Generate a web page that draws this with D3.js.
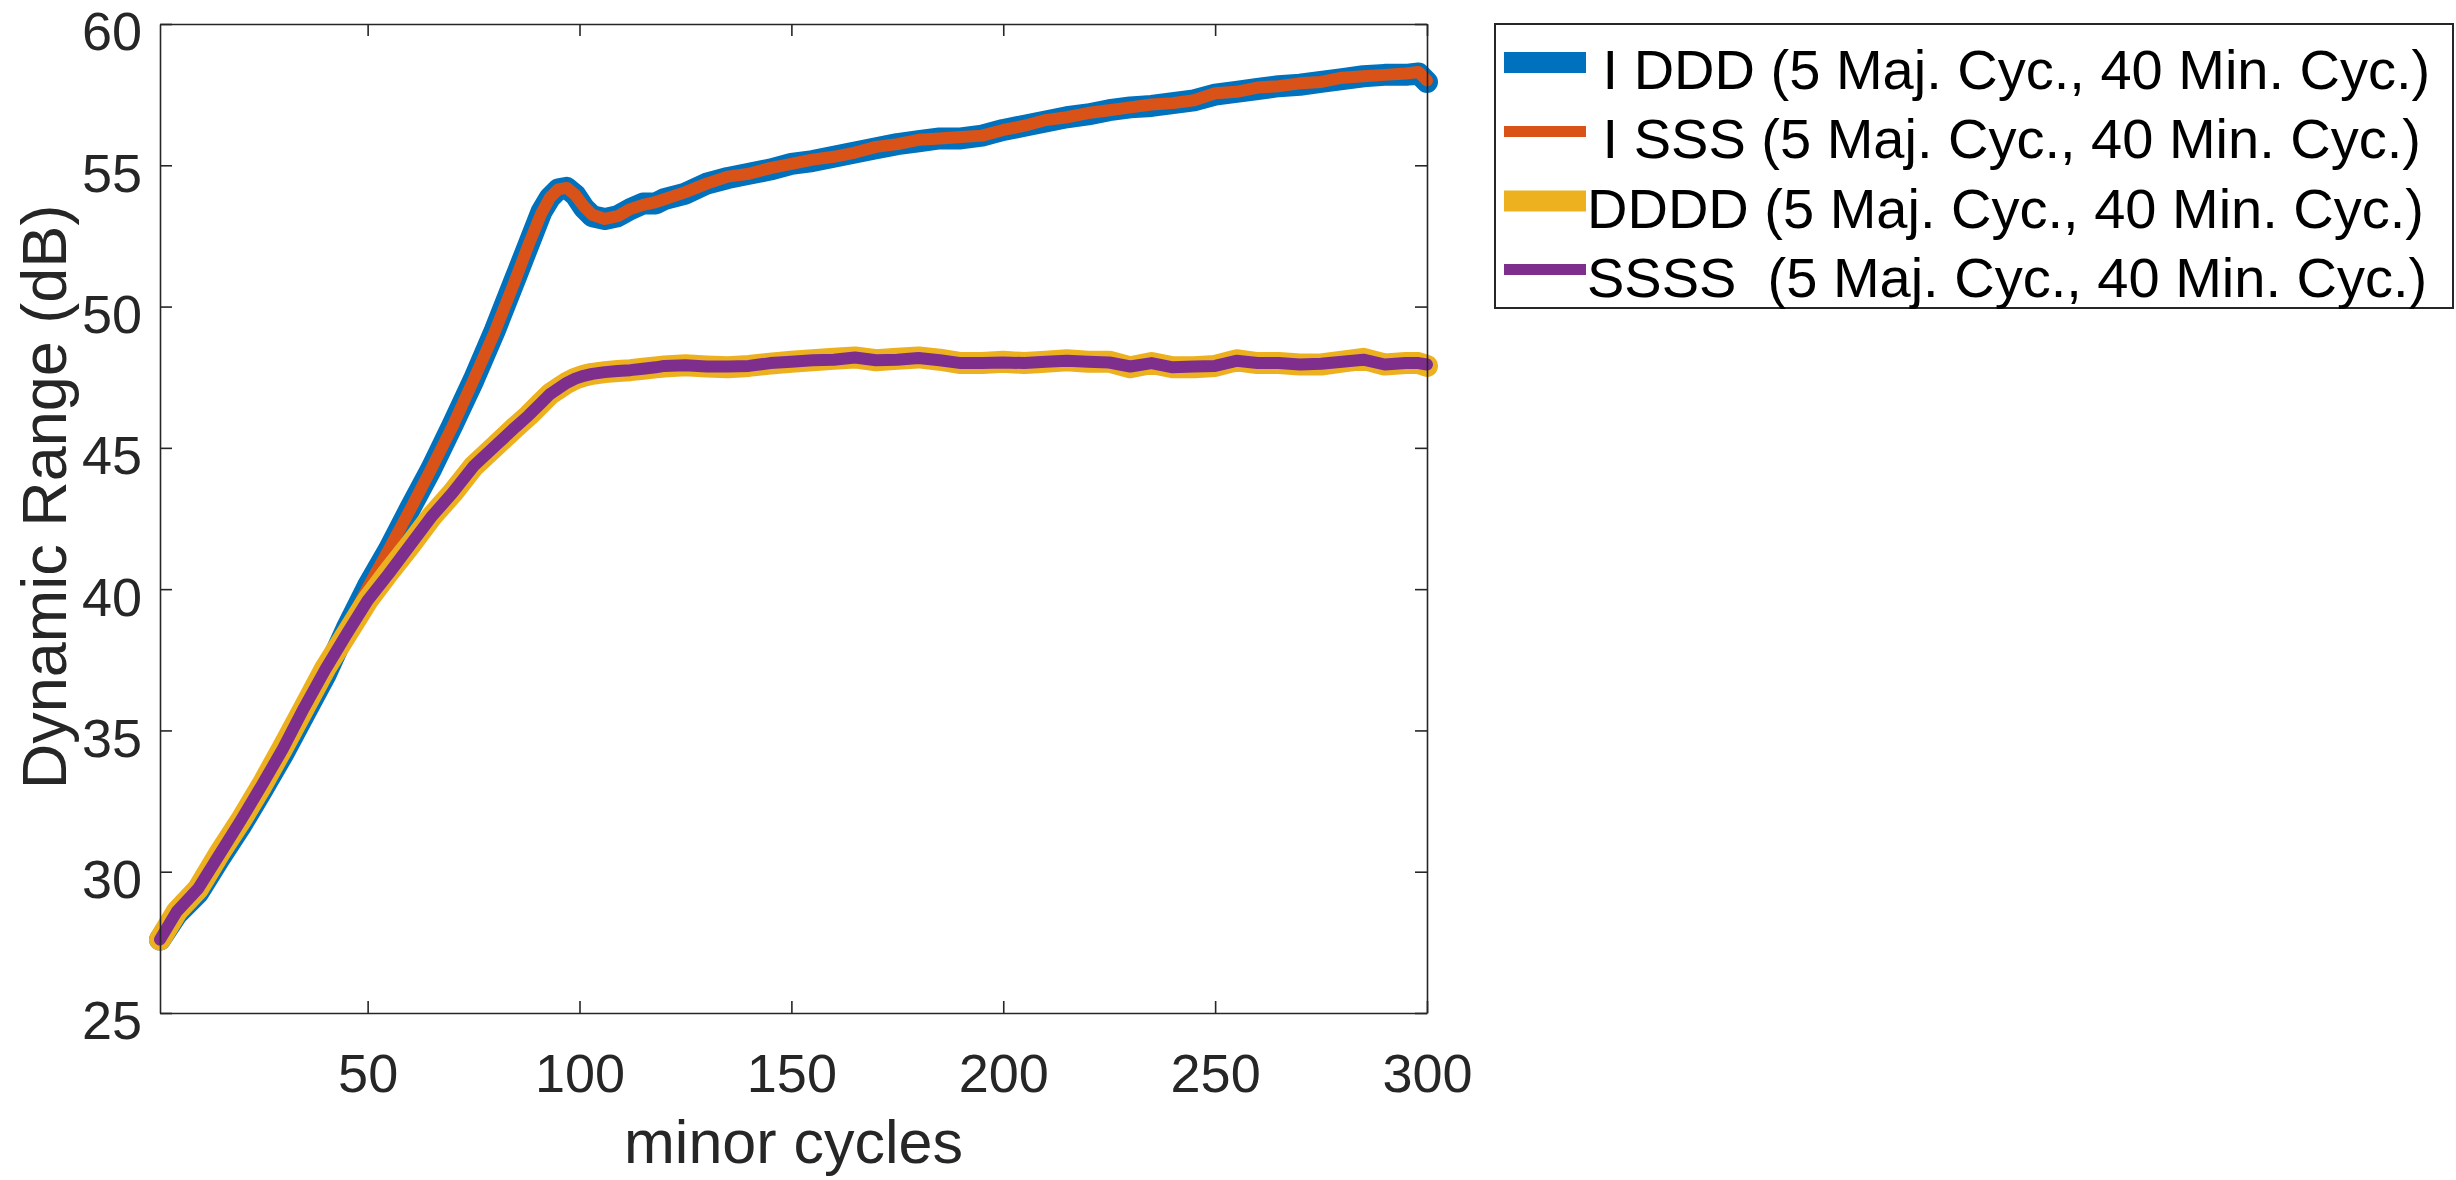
<!DOCTYPE html>
<html>
<head>
<meta charset="utf-8">
<script src="https://cdn.jsdelivr.net/npm/d3@7"></script>
<style>
  body { margin: 0; background: #fff; }
  svg { display: block; font-family: "Liberation Sans", Arial, Helvetica, sans-serif; }
</style>
</head>
<body>
<svg width="2456" height="1180"></svg>
<script>
// minor cycle positions of the read-off points
var cycles = [1, 5, 10, 15, 20, 25, 30, 35, 40, 45, 50, 55, 60, 65, 70, 75, 80, 85,
    88, 91, 93, 95, 97, 99, 101, 103, 106, 109, 112, 115, 118,
    120, 125, 130, 135, 140, 145, 150, 155, 160, 165, 170, 175, 180, 185, 190, 195,
    200, 205, 210, 215, 220, 225, 230, 235, 240, 245, 250, 255, 260, 265, 270, 275,
    280, 285, 290, 295, 298, 300];

// series values (dB)
var iDDD = [27.6, 28.5, 29.25, 30.45, 31.6, 32.85, 34.15, 35.55, 36.95, 38.6, 40.1, 41.4, 42.85, 44.25, 45.8, 47.4, 49.15, 51.05,
    52.2, 53.35, 53.85, 54.15, 54.2, 53.95, 53.5, 53.2, 53.1, 53.2, 53.45, 53.65, 53.65,
    53.8, 54.0, 54.35, 54.55, 54.7, 54.85, 55.05, 55.15, 55.3, 55.45, 55.6, 55.75, 55.85, 55.95, 55.95, 56.05,
    56.25, 56.4, 56.55, 56.7, 56.8, 56.95, 57.05, 57.1, 57.2, 57.3, 57.5, 57.6, 57.7, 57.8, 57.85, 57.95,
    58.05, 58.15, 58.2, 58.2, 58.25, 57.95];
var iSSS = [27.65, 28.55, 29.3, 30.5, 31.65, 32.9, 34.2, 35.6, 37.0, 38.6, 40.05, 41.4, 42.8, 44.25, 45.75, 47.4, 49.1, 51.0,
    52.2, 53.3, 53.85, 54.15, 54.2, 53.95, 53.55, 53.25, 53.1, 53.2, 53.45, 53.6, 53.7,
    53.8, 54.05, 54.35, 54.6, 54.7, 54.9, 55.05, 55.2, 55.3, 55.45, 55.65, 55.75, 55.9, 55.95, 56.0, 56.05,
    56.25, 56.4, 56.6, 56.7, 56.85, 56.95, 57.05, 57.15, 57.2, 57.3, 57.55, 57.6, 57.75, 57.8, 57.9, 57.95,
    58.1, 58.15, 58.2, 58.25, 58.3, 58.0];
var dddd = [27.6, 28.6, 29.4, 30.65, 31.8, 33.05, 34.4, 35.8, 37.2, 38.4, 39.6, 40.6, 41.55, 42.55, 43.4, 44.35, 45.05, 45.75,
    46.15, 46.6, 46.9, 47.1, 47.3, 47.45, 47.55, 47.62, 47.68, 47.72, 47.75, 47.8, 47.85,
    47.88, 47.92, 47.88, 47.85, 47.9, 47.98, 48.05, 48.1, 48.15, 48.2, 48.1, 48.15, 48.2, 48.12, 48.0, 48.0,
    48.05, 48.0, 48.05, 48.1, 48.05, 48.05, 47.85, 48.0, 47.85, 47.85, 47.9, 48.1, 48.0, 48.0, 47.95, 47.95,
    48.05, 48.15, 47.95, 48.0, 48.0, 47.9];
var ssss = [27.6, 28.6, 29.4, 30.6, 31.8, 33.05, 34.35, 35.8, 37.15, 38.4, 39.6, 40.55, 41.55, 42.55, 43.4, 44.35, 45.05, 45.75,
    46.15, 46.6, 46.9, 47.1, 47.3, 47.45, 47.55, 47.62, 47.68, 47.72, 47.75, 47.8, 47.85,
    47.9, 47.92, 47.88, 47.88, 47.9, 48.0, 48.05, 48.1, 48.12, 48.2, 48.1, 48.12, 48.18, 48.1, 48.0, 48.0,
    48.02, 48.0, 48.05, 48.08, 48.05, 48.02, 47.88, 48.0, 47.85, 47.88, 47.9, 48.08, 48.0, 48.0, 47.95, 47.98,
    48.05, 48.12, 47.95, 48.0, 48.0, 47.95];

// tick values
var xTicks = [50, 100, 150, 200, 250, 300];
var yTicks = [25, 30, 35, 40, 45, 50, 55, 60];

var seriesNames = [" I DDD (5 Maj. Cyc., 40 Min. Cyc.)", " I SSS (5 Maj. Cyc., 40 Min. Cyc.)",
    "DDDD (5 Maj. Cyc., 40 Min. Cyc.)", "SSSS  (5 Maj. Cyc., 40 Min. Cyc.)"];
var seriesColors = ["#0072BD", "#D95319", "#EDB120", "#7E2F8E"];
var seriesWidths = [22, 12, 22, 12];
var swatchWidths = [21, 11, 21, 11];
var seriesData = [iDDD, iSSS, dddd, ssss];

var svg = d3.select("svg");
var axisColor = "#262626";

// plot box
var box = { left: 160, right: 1427, top: 24, bottom: 1013 };

var x = d3.scaleLinear().domain([1, 300]).range([box.left, box.right]);
var y = d3.scaleLinear().domain([25, 60]).range([box.bottom, box.top]);

// lines
var line = d3.line()
    .x(function (d) { return x(d[0]); })
    .y(function (d) { return y(d[1]); });

seriesData.forEach(function (vals, i) {
    var pts = cycles.map(function (c, j) { return [c, vals[j]]; });
    svg.append("path")
        .datum(pts)
        .attr("fill", "none")
        .attr("stroke", seriesColors[i])
        .attr("stroke-width", seriesWidths[i])
        .attr("stroke-linejoin", "round")
        .attr("stroke-linecap", "round")
        .attr("d", line);
});

// axes
function styleAxis(g) {
    g.select(".domain").attr("stroke", axisColor).attr("stroke-width", 1.6);
    g.selectAll(".tick line").attr("stroke", axisColor).attr("stroke-width", 1.6);
    g.selectAll(".tick text").attr("fill", axisColor).attr("font-size", 54)
        .attr("font-family", "Liberation Sans, Arial, sans-serif");
}

var xAxis = svg.append("g")
    .attr("transform", "translate(0," + box.bottom + ")")
    .call(d3.axisBottom(x).tickValues(xTicks).tickSizeInner(-12).tickSizeOuter(0).tickPadding(41));
styleAxis(xAxis);

var yAxis = svg.append("g")
    .attr("transform", "translate(" + box.left + ",0)")
    .call(d3.axisLeft(y).tickValues(yTicks).tickSizeInner(-12).tickSizeOuter(0).tickPadding(18));
styleAxis(yAxis);
yAxis.selectAll(".tick text").attr("dy", "0.48em");

var xTop = svg.append("g")
    .attr("transform", "translate(0," + box.top + ")")
    .call(d3.axisTop(x).tickValues(xTicks).tickSizeInner(-12).tickSizeOuter(0).tickFormat(""));
styleAxis(xTop);

var yRight = svg.append("g")
    .attr("transform", "translate(" + box.right + ",0)")
    .call(d3.axisRight(y).tickValues(yTicks).tickSizeInner(-12).tickSizeOuter(0).tickFormat(""));
styleAxis(yRight);

// axis labels
svg.append("text")
    .attr("x", (box.left + box.right) / 2)
    .attr("y", 1163)
    .attr("text-anchor", "middle")
    .attr("font-size", 61)
    .attr("fill", axisColor)
    .text("minor cycles");

svg.append("text")
    .attr("transform", "translate(66,497) rotate(-90)")
    .attr("text-anchor", "middle")
    .attr("font-size", 63)
    .attr("fill", axisColor)
    .text("Dynamic Range (dB)");

// legend
var leg = svg.append("g");
leg.append("rect")
    .attr("x", 1495).attr("y", 24)
    .attr("width", 958).attr("height", 284)
    .attr("fill", "#fff")
    .attr("stroke", axisColor)
    .attr("stroke-width", 2);

var swatchY = [62.5, 131.5, 201, 269.5];
var textY = [89, 158, 228, 297];
seriesNames.forEach(function (name, i) {
    leg.append("line")
        .attr("x1", 1504).attr("x2", 1586)
        .attr("y1", swatchY[i]).attr("y2", swatchY[i])
        .attr("stroke", seriesColors[i])
        .attr("stroke-width", swatchWidths[i]);
    leg.append("text")
        .attr("x", 1587)
        .attr("y", textY[i])
        .attr("font-size", 56)
        .attr("fill", "#000")
        .style("white-space", "pre")
        .attr("xml:space", "preserve")
        .text(name);
});
</script>
</body>
</html>
